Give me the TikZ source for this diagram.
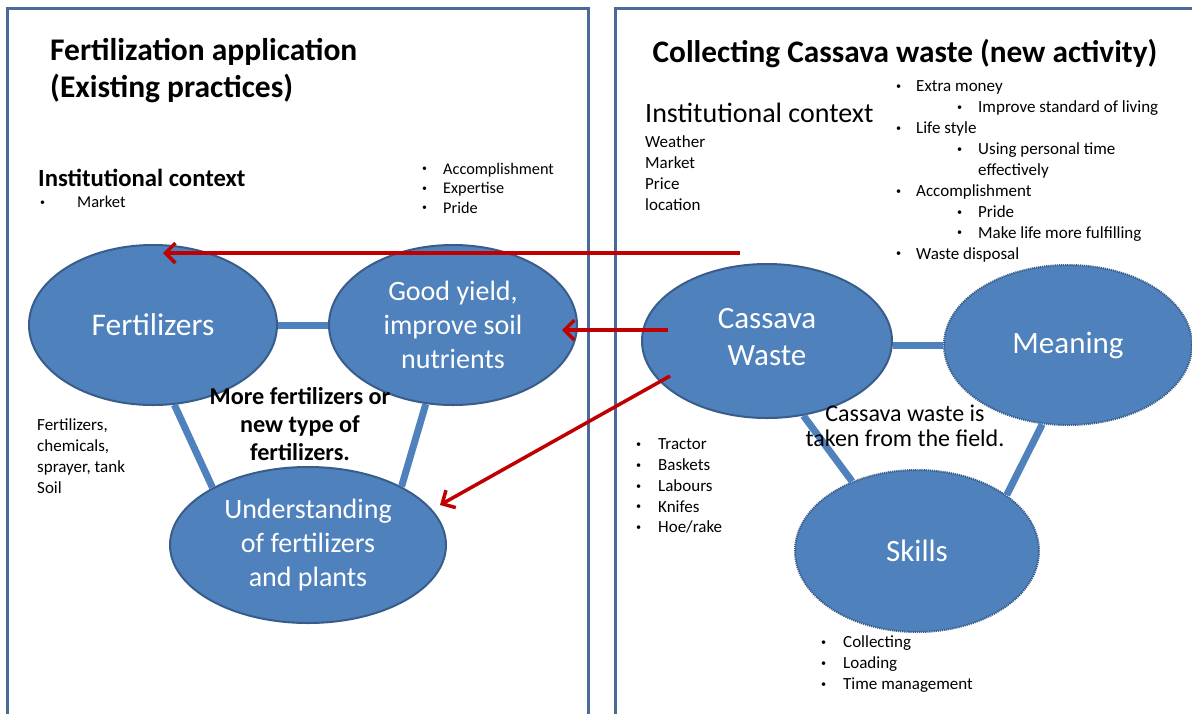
\documentclass[tikz,border=0pt]{standalone}
\usepackage{fontspec}
\usepackage{graphicx}
\setmainfont{Carlito}
\usetikzlibrary{shapes.geometric,arrows.meta,calc}
\definecolor{ofill}{HTML}{4F81BD}
\definecolor{oline}{HTML}{385D8A}
\definecolor{panel}{HTML}{4A6B9A}
\definecolor{darkred}{HTML}{C00000}
\newcommand\bul[1]{\makebox[#1][l]{\raisebox{0.13em}{\scalebox{0.6}{•}}}}
\begin{document}
\begin{tikzpicture}[x=1pt,y=-1pt,
  bubble/.style={ellipse, fill=ofill, draw=oline, line width=2pt, inner sep=0pt, text=white, align=center, font=\fontsize{28}{34}\selectfont},
  dotbubble/.style={bubble, dash pattern=on 1.2pt off 0.9pt},
  link/.style={draw=ofill, line width=7pt},
  redarrow/.style={draw=darkred, line width=3.5pt, -{Straight Barb[length=10pt,width=20pt]}},
  panelbox/.style={draw=panel, line width=3pt},
  small/.style={font=\fontsize{17}{20.9}\selectfont, inner sep=0pt, align=left, anchor=north west},
]
\path[use as bounding box, clip] (0,0) rectangle (1192,713);
\fill[white] (0,0) rectangle (1192,713);
% panels
\draw[panelbox] (7,740) -- (7,8) -- (588,8) -- (588,740);
\draw[panelbox] (615,740) -- (615,8) -- (1210,8);
% titles
\node[anchor=west, align=left, inner sep=0pt, font=\bfseries\fontsize{31.5}{37}\selectfont] (t1) at (50,71) {Fertilization application\\(Existing practices)};
\node[inner sep=0pt, font=\bfseries\fontsize{31.3}{37}\selectfont] (t2) at (905,54) {Collecting Cassava waste (new activity)};
% left texts
\node[anchor=west, inner sep=0pt, font=\bfseries\fontsize{24.7}{28}\selectfont] (ic1) at (38,178) {Institutional context};
\node[small, font=\fontsize{16.5}{20}\selectfont] (mk) at (40,195.5) {\bul{37pt}Market};
\node[small, font=\fontsize{16.3}{19.5}\selectfont] (acc) at (422,162.5) {\bul{21pt}Accomplishment\\\bul{21pt}Expertise\\\bul{21pt}Pride};
\node[small] (fl) at (37,418.7) {Fertilizers,\\chemicals,\\sprayer, tank\\Soil};
% right texts
\node[anchor=west, inner sep=0pt, font=\fontsize{28}{32}\selectfont] (ic2) at (645,113) {Institutional context};
\node[small, font=\fontsize{17}{21}\selectfont] (wl) at (645,135.7) {Weather\\Market\\Price\\location};
\node[small] (ml) at (896,80.7) {\bul{20pt}Extra money\\
\hspace*{61pt}\bul{21pt}Improve standard of living\\
\bul{20pt}Life style\\
\hspace*{61pt}\bul{21pt}Using personal time\\
\hspace*{82pt}effectively\\
\bul{20pt}Accomplishment\\
\hspace*{61pt}\bul{21pt}Pride\\
\hspace*{61pt}\bul{21pt}Make life more fulfilling\\
\bul{20pt}Waste disposal};
\node[small, font=\fontsize{17}{20.75}\selectfont] (tl) at (636,438.7) {\bul{22pt}Tractor\\\bul{22pt}Baskets\\\bul{22pt}Labours\\\bul{22pt}Knifes\\\bul{22pt}Hoe/rake};
\node[small, font=\fontsize{17}{21}\selectfont] (sl) at (821,635.7) {\bul{22pt}Collecting\\\bul{22pt}Loading\\\bul{22pt}Time management};
% ellipses
\node[bubble, minimum width=248pt, minimum height=160pt, font=\fontsize{31.5}{36}\selectfont] (F) at (153,325) {Fertilizers};
\node[bubble, minimum width=248pt, minimum height=160pt] (G) at (453,325) {Good yield,\\improve soil\\nutrients};
\node[bubble, minimum width=276pt, minimum height=156pt] (U) at (308,545) {Understanding\\of fertilizers\\and plants};
\node[bubble, minimum width=250pt, minimum height=154pt, font=\fontsize{31}{37}\selectfont] (C) at (767,341) {Cassava\\Waste\\[-28pt]\mbox{}};
\node[dotbubble, minimum width=248pt, minimum height=160pt, font=\fontsize{31}{37}\selectfont] (M) at (1068,345) {Meaning};
\node[dotbubble, minimum width=244pt, minimum height=162pt, font=\fontsize{31}{37}\selectfont] (S) at (917,551) {Skills};
% links
\draw[link] (F.east) -- (G.west);
\draw[link] (F.-75) -- (U.149);
\draw[link] (G.-109) -- (U.32);
\draw[link] (C.east |- M.west) -- (M.west);
\draw[link] (C.-64) -- (S.133);
\draw[link] (M.-108) -- (S.32);
% center labels
\node[align=center, inner sep=0pt, font=\bfseries\fontsize{24.2}{28}\selectfont] (lab1) at (300,424) {More fertilizers or\\new type of\\fertilizers.};
\node[align=center, inner sep=0pt, font=\fontsize{24}{25}\selectfont] (lab2) at (905,426) {Cassava waste is\\taken from the field.};
% red arrows
\coordinate (r1s) at (740,253);
\coordinate (r1e) at (163,253);
\coordinate (r2s) at (668,330);
\coordinate (r2e) at (562,330);
\coordinate (r3s) at (670,376);
\coordinate (r3e) at (440,505);
\draw[redarrow] (r1s) -- (r1e);
\draw[redarrow] (r2s) -- (r2e);
\draw[redarrow] (r3s) -- (r3e);
\end{tikzpicture}
\end{document}
